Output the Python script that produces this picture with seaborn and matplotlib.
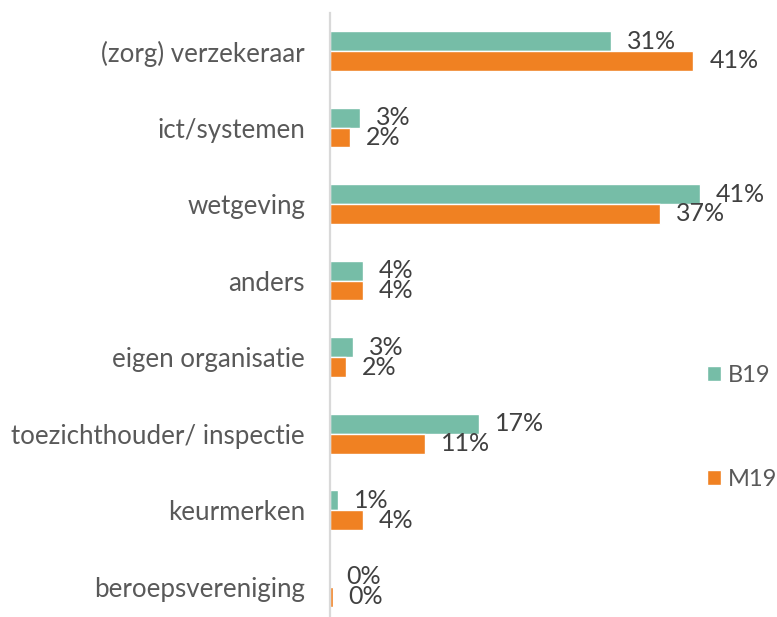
import pandas as pd
import matplotlib
matplotlib.use('Agg')
import matplotlib.pyplot as plt
import seaborn as sns

categories = [
    '(zorg) verzekeraar',
    'ict/systemen',
    'wetgeving',
    'anders',
    'eigen organisatie',
    'toezichthouder/ inspectie',
    'keurmerken',
    'beroepsvereniging',
]
b19 = [31.4, 3.4, 41.3, 3.7, 2.6, 16.7, 0.9, 0.0]
m19 = [40.6, 2.2, 36.9, 3.7, 1.8, 10.6, 3.7, 0.3]
series = ['B19', 'M19']
colors = ['#76BDA7', '#F08122']

df = pd.DataFrame({
    'categorie': categories * 2,
    'reeks': ['B19'] * len(categories) + ['M19'] * len(categories),
    'waarde': b19 + m19,
})

sns.set_style('white')
plt.rcParams['font.family'] = ['Lato', 'DejaVu Sans']

fig = plt.figure(figsize=(7.77, 6.17), dpi=100)
# plot area in pixels: x from 330 to 777, y from 12.7 to 625
ax = fig.add_axes([330 / 777, (617 - 625) / 617, 447 / 777, 612.3 / 617])

sns.barplot(
    data=df, y='categorie', x='waarde', hue='reeks',
    order=categories, hue_order=series, palette=colors, saturation=1,
    width=0.52, orient='h', ax=ax, legend=True,
)

ax.set_xlim(0, 447 / 8.95)
ax.set_ylim(len(categories) - 0.5, -0.5)
ax.set_xlabel('')
ax.set_ylabel('')
ax.set_xticks([])
ax.tick_params(axis='y', length=0, pad=18, labelsize=18.6, labelcolor='#595959')
for s in ['top', 'right', 'bottom']:
    ax.spines[s].set_visible(False)
ax.spines['left'].set_color('#D9D9D9')
ax.spines['left'].set_linewidth(1.6)

for cont, vals in zip(ax.containers, [b19, m19]):
    ax.bar_label(cont, labels=[f'{v:.0f}%' for v in vals], padding=11.5,
                 fontsize=18, color='#404040')

handles, labels = ax.get_legend_handles_labels()
ax.legend(
    handles, labels, loc='center left',
    bbox_to_anchor=(707 / 777, 1 - 427.5 / 617), bbox_transform=fig.transFigure,
    frameon=False, fontsize=17, labelcolor='#595959',
    handlelength=0.6, handleheight=0.6, handletextpad=0.3,
    labelspacing=3.5, borderpad=0, borderaxespad=0,
)

fig.savefig('out.png', dpi=100)
plt.close(fig)
